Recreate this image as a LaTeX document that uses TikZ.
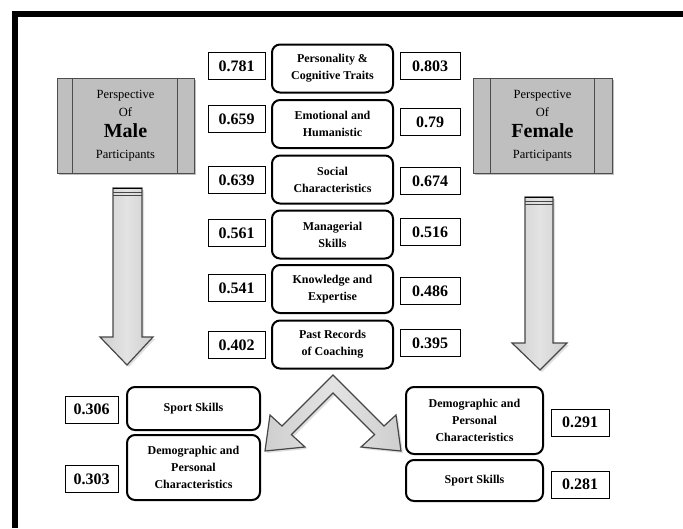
\documentclass[tikz,border=0pt]{standalone}
\usepackage{fontspec}
\setmainfont{Liberation Serif}
\usetikzlibrary{shadows}

\begin{document}
\begin{tikzpicture}[x=1pt,y=-1pt,
    trait/.style={draw,line width=2pt,rounded corners=8pt,align=center,
        font=\fontsize{12}{17}\selectfont\bfseries,minimum width=121pt,minimum height=48pt,inner sep=2pt},
    val/.style={draw,line width=0.6pt,font=\fontsize{16}{16}\selectfont\bfseries,
        minimum width=57pt,minimum height=27pt,inner sep=1pt},
    persp/.style={draw=gray!60!black,fill=gray!50,line width=0.8pt,minimum width=137pt,
        minimum height=95pt,align=center,font=\fontsize{12.5}{18}\selectfont,
        drop shadow={shadow xshift=2pt,shadow yshift=-2pt,opacity=0.5}},
    bigarrow/.style={draw=gray!55!black,line width=1.2pt,left color=gray!38,right color=gray!38,
        middle color=gray!22,drop shadow={shadow xshift=2pt,shadow yshift=-2pt,opacity=0.25}}
]
    \useasboundingbox (0,0) rectangle (683,528);
    % frame
    \draw[line width=6pt] (15,528) -- (15,14) -- (683,14);

    % perspective boxes
    \node[persp] (persM) at (125.5,125.5) {Perspective\\Of\\[3pt]{\fontsize{20}{20}\selectfont\bfseries Male}\\[3pt]Participants};
    \node[persp,minimum width=139pt] (persF) at (542.5,125.5) {Perspective\\Of\\[3pt]{\fontsize{20}{20}\selectfont\bfseries Female}\\[3pt]Participants};
    \draw[gray!60!black,line width=0.8pt] ([xshift=16pt]persM.north west) -- ([xshift=16pt]persM.south west);
    \draw[gray!60!black,line width=0.8pt] ([xshift=-17pt]persM.north east) -- ([xshift=-17pt]persM.south east);
    \draw[gray!60!black,line width=0.8pt] ([xshift=18pt]persF.north west) -- ([xshift=18pt]persF.south west);
    \draw[gray!60!black,line width=0.8pt] ([xshift=-18pt]persF.north east) -- ([xshift=-18pt]persF.south east);

    % traits with the two sets of weights
    \node[trait] (t1) at (332.5,68.5) {Personality \&\\Cognitive Traits};
    \node[trait] (t2) at (332.5,124) {Emotional and\\Humanistic};
    \node[trait] (t3) at (332.5,179.5) {Social\\Characteristics};
    \node[trait] (t4) at (332.5,234.5) {Managerial\\Skills};
    \node[trait] (t5) at (332.5,289) {Knowledge and\\Expertise};
    \node[trait] (t6) at (332.5,344.5) {Past Records\\of Coaching};

    \node[val] (m1) at (236.5,66) {0.781};
    \node[val] (m2) at (236.5,119) {0.659};
    \node[val] (m3) at (236.5,180) {0.639};
    \node[val] (m4) at (236.5,233) {0.561};
    \node[val] (m5) at (236.5,288) {0.541};
    \node[val] (m6) at (236.5,345) {0.402};

    \node[val,minimum width=60pt] (f1) at (430,66) {0.803};
    \node[val,minimum width=60pt] (f2) at (430,122) {0.79};
    \node[val,minimum width=60pt] (f3) at (430,181) {0.674};
    \node[val,minimum width=60pt] (f4) at (430,232) {0.516};
    \node[val,minimum width=60pt] (f5) at (430,291) {0.486};
    \node[val,minimum width=60pt] (f6) at (430,343) {0.395};

    % down arrows
    \draw[bigarrow] (113,188) -- (142,188) -- (142,337) -- (153,337) -- (127,365) -- (100,337) -- (113,337) -- cycle;
    \draw[line width=1.2pt] (113,188.5) -- (142,188.5);
    \draw[gray!55!black,line width=1pt] (113,192) -- (142,192) (113,195.5) -- (142,195.5);
    \draw[bigarrow] (525,197) -- (553,197) -- (553,343) -- (567,343) -- (540,370) -- (512,343) -- (525,343) -- cycle;
    \draw[line width=1.2pt] (525,197.5) -- (553,197.5);
    \draw[gray!55!black,line width=1pt] (525,201) -- (553,201) (525,204.5) -- (553,204.5);

    % split arrow
    \draw[bigarrow] (333,375) -- (384,426) -- (396,415) -- (401,451) -- (361,447) -- (374.6,434.6)
        -- (333,393) -- (291.4,434.6) -- (305,447) -- (265,451) -- (270,415) -- (282,426) -- cycle;

    % lowest ranked, male
    \node[trait,minimum width=133pt,minimum height=43pt] (mS) at (193.5,408.5) {Sport Skills};
    \node[trait,minimum width=133pt,minimum height=65pt] (mD) at (193.5,467.5) {Demographic and\\Personal\\Characteristics};
    \node[val,minimum width=53pt] (mSv) at (91.5,409.5) {0.306};
    \node[val,minimum width=53pt] (mDv) at (91.5,479) {0.303};

    % lowest ranked, female
    \node[trait,minimum width=137pt,minimum height=67pt] (fD) at (474.5,420.5) {Demographic and\\Personal\\Characteristics};
    \node[trait,minimum width=137pt,minimum height=41pt] (fS) at (474.5,480.5) {Sport Skills};
    \node[val,minimum width=58pt] (fDv) at (580,422.5) {0.291};
    \node[val,minimum width=58pt] (fSv) at (580,484.5) {0.281};
\end{tikzpicture}
\end{document}
